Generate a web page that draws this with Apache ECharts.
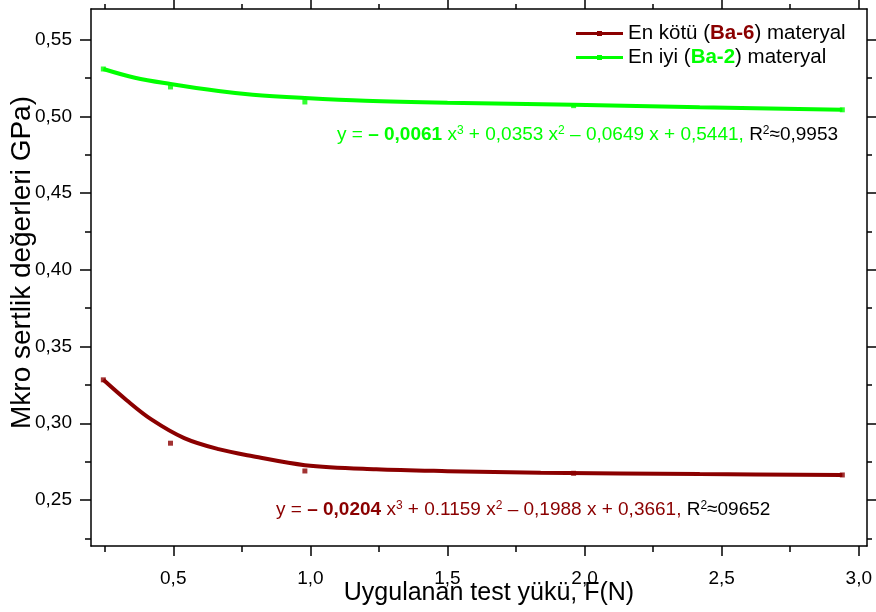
<!DOCTYPE html>
<html><head><meta charset="utf-8">
<script src="https://cdn.jsdelivr.net/npm/echarts@6/dist/echarts.min.js"></script>
<style>html,body{margin:0;padding:0;background:#fff}#c{width:876px;height:612px}</style>
</head><body><div id="c"></div>
<script>
// Test loads (N) and measured micro-hardness (GPa)
const loads = [0.245, 0.49, 0.98, 1.96, 2.94];
const worstMeasured = [0.3283, 0.2870, 0.2689, 0.2674, 0.2663];
const bestMeasured = [0.5309, 0.5192, 0.5094, 0.5070, 0.5043];
// Fitted curves
const worstFitX = [0.245, 0.33, 0.42, 0.54, 0.665, 0.79, 0.98, 1.24, 1.5, 1.84, 2.42, 2.94];
const worstFitY = [0.3283, 0.3150, 0.3025, 0.2903, 0.2831, 0.2785, 0.2727, 0.2700, 0.2688, 0.2678, 0.2669, 0.2663];
const bestFitX = [0.245, 0.36, 0.49, 0.665, 0.79, 0.98, 1.2, 1.5, 1.96, 2.42, 2.94];
const bestFitY = [0.5309, 0.5252, 0.5211, 0.5165, 0.5141, 0.5120, 0.5102, 0.5089, 0.5076, 0.5060, 0.5043];
// Axis ticks
const xMajor = [0.5, 1.0, 1.5, 2.0, 2.5, 3.0];
const xMinor = [0.25, 0.75, 1.25, 1.75, 2.25, 2.75];
const yMajor = [0.25, 0.30, 0.35, 0.40, 0.45, 0.50, 0.55];
const yMinor = [0.225, 0.275, 0.325, 0.375, 0.425, 0.475, 0.525];
const seriesNames = ['En kötü (Ba-6) materyal', 'En iyi (Ba-2) materyal'];

const RED = '#8b0000', GREEN = '#00ff00';
const FONT = 'Liberation Sans';
const zip = (a, b) => a.map((v, i) => [v, b[i]]);
const chart = echarts.init(document.getElementById('c'));
const fx = v => v.toFixed(1).replace('.', ',');
const fy = v => v.toFixed(2).replace('.', ',');
const AX = {lineStyle: {color: '#000', width: 1.5}};
const xBase = {type: 'value', min: 0.2, max: 3.03, splitLine: {show: false}, gridIndex: 0};
const yBase = {type: 'value', min: 0.22, max: 0.57, splitLine: {show: false}, gridIndex: 0};
const tick = (vals, len) => ({show: true, customValues: vals, length: len, lineStyle: {color: '#000', width: 1.5}});
const eqRich = c => ({
  b: {fontWeight: 'bold', fontSize: 19, fontFamily: FONT, fill: c, color: c},
  s: {fontSize: 12, fontFamily: FONT, verticalAlign: 'top', fill: c, color: c},
  k: {fontSize: 19, fontFamily: FONT, fill: '#000', color: '#000'},
  ks: {fontSize: 12, fontFamily: FONT, verticalAlign: 'top', fill: '#000', color: '#000'}
});

chart.setOption({
  animation: false,
  grid: {left: 91, right: 9, top: 9, bottom: 66, containLabel: false, outerBoundsMode: 'none'},
  xAxis: [
    Object.assign({}, xBase, {position: 'bottom', axisLine: AX, axisTick: tick(xMajor, 10),
      axisLabel: {customValues: xMajor, formatter: fx, margin: 23, color: '#000',
        fontFamily: FONT, fontSize: 19},
      name: 'Uygulanan test yükü, F(N)', nameLocation: 'middle', nameGap: 35, nameMoveOverlap: false,
      nameTextStyle: {fontFamily: FONT, fontSize: 25, color: '#000', padding: [0, 0, 0, 20]}}),
    Object.assign({}, xBase, {position: 'bottom', axisLine: {show: false}, axisTick: tick(xMinor, 6), axisLabel: {show: false}}),
    Object.assign({}, xBase, {position: 'top', axisLine: AX, axisTick: tick(xMajor, 9), axisLabel: {show: false}}),
    Object.assign({}, xBase, {position: 'top', axisLine: {show: false}, axisTick: tick(xMinor, 5), axisLabel: {show: false}})
  ],
  yAxis: [
    Object.assign({}, yBase, {position: 'left', axisLine: AX, axisTick: tick(yMajor, 11),
      axisLabel: {customValues: yMajor, formatter: fy, margin: 19, color: '#000',
        fontFamily: FONT, fontSize: 19},
      name: 'Mkro sertlik değerleri GPa)', nameLocation: 'middle', nameGap: 55, nameRotate: 90, nameMoveOverlap: false,
      nameTextStyle: {fontFamily: FONT, fontSize: 28, color: '#000', padding: [0, 0, 0, 30]}}),
    Object.assign({}, yBase, {position: 'left', axisLine: {show: false}, axisTick: tick(yMinor, 6), axisLabel: {show: false}}),
    Object.assign({}, yBase, {position: 'right', axisLine: AX, axisTick: tick(yMajor, 9), axisLabel: {show: false}}),
    Object.assign({}, yBase, {position: 'right', axisLine: {show: false}, axisTick: tick(yMinor, 5), axisLabel: {show: false}})
  ],
  legend: {
    data: seriesNames, left: 571, top: 18, orient: 'vertical', itemGap: 3,
    itemWidth: 47, itemHeight: 22, icon: 'path://M0,9.5 L47,9.5 L47,12.5 L0,12.5 Z M21,8.5 L26,8.5 L26,13.5 L21,13.5 Z',
    textStyle: {fontFamily: FONT, fontSize: 20.5, color: '#000',
      rich: {r: {fontFamily: FONT, fontSize: 20.5, fontWeight: 'bold', color: RED},
             g: {fontFamily: FONT, fontSize: 20.5, fontWeight: 'bold', color: GREEN}}},
    formatter: n => n === seriesNames[0] ? 'En kötü ({r|Ba-6}) materyal' : 'En iyi ({g|Ba-2}) materyal'
  },
  series: [
    {name: seriesNames[0], type: 'line', smooth: 0.35, data: zip(worstFitX, worstFitY), showSymbol: false,
      symbol: 'none', lineStyle: {color: RED, width: 4}, itemStyle: {color: RED}, z: 2},
    {type: 'scatter', data: zip(loads, worstMeasured), symbol: 'rect', symbolSize: 5,
      itemStyle: {color: RED}, z: 3},
    {name: seriesNames[1], type: 'line', smooth: 0.35, data: zip(bestFitX, bestFitY), showSymbol: false,
      symbol: 'none', lineStyle: {color: GREEN, width: 4}, itemStyle: {color: GREEN}, z: 2},
    {type: 'scatter', data: zip(loads, bestMeasured), symbol: 'rect', symbolSize: 5,
      itemStyle: {color: GREEN}, z: 3}
  ],
  graphic: [
    {type: 'text', left: 337, top: 125, style: {
      text: 'y = {b|– 0,0061} x{s|3} + 0,0353 x{s|2} – 0,0649 x + 0,5441, {k|R}{ks|2}{k|≈0,9953}',
      fill: GREEN, font: '19px "Liberation Sans"', rich: eqRich(GREEN)}},
    {type: 'text', left: 276, top: 500, style: {
      text: 'y = {b|– 0,0204} x{s|3} + 0.1159 x{s|2} – 0,1988 x + 0,3661, {k|R}{ks|2}{k|≈09652}',
      fill: RED, font: '19px "Liberation Sans"', rich: eqRich(RED)}}
  ]
});
</script></body></html>
